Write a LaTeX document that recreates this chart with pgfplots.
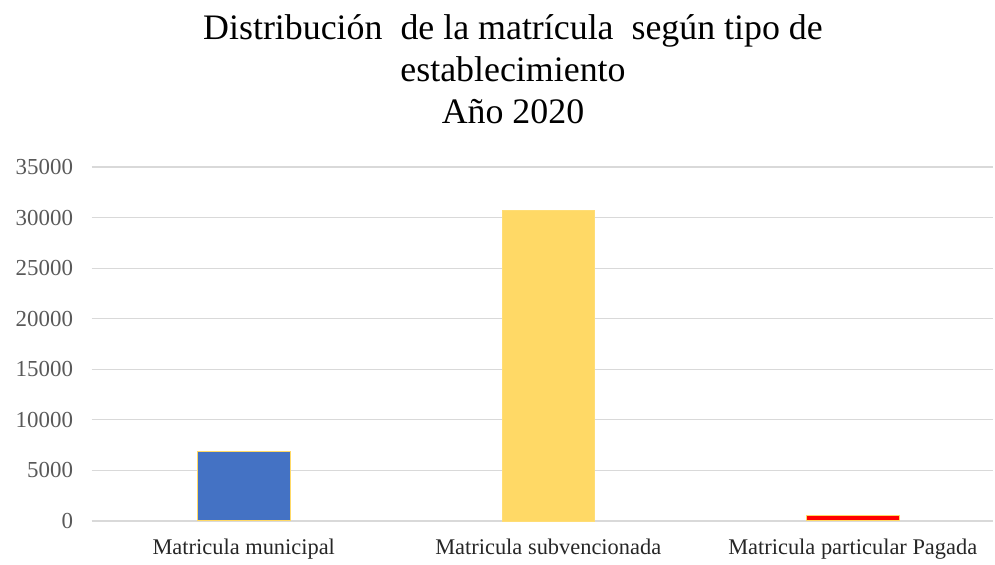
\documentclass[border=0pt]{standalone}
\usepackage{fontspec}
\setmainfont{Liberation Serif}
\usepackage{pgfplots}
\pgfplotsset{compat=1.18}
\definecolor{cblue}{HTML}{4472C4}
\definecolor{cyel}{HTML}{FFD966}
\definecolor{cred}{HTML}{FF0000}
\definecolor{cgrid}{HTML}{D9D9D9}
\definecolor{ctick}{HTML}{595959}
\begin{document}
\begin{tikzpicture}[x=1bp,y=1bp]
\path[use as bounding box] (0,0) rectangle (995,565);
\begin{axis}[
  at={(91.5bp,44bp)}, anchor=south west,
  scale only axis, width=901.3bp, height=354bp,
  xmin=-0.5, xmax=2.46, ymin=0, ymax=35000,
  ybar, bar width=0.305,
  axis line style={draw=none},
  major tick length=0pt,
  ymajorgrids, grid style={cgrid, line width=1.2pt},
  ytick={0,5000,...,35000},
  scaled y ticks=false,
  yticklabel style={/pgf/number format/fixed, /pgf/number format/1000 sep={}, font=\fontsize{23}{25}\selectfont, text=ctick, xshift=-15bp},
  /pgf/number format/assume math mode=true,
  xtick={0,1,2},
  xticklabels={Matricula municipal, Matricula subvencionada, Matricula particular Pagada},
  xticklabel style={font=\fontsize{22.5}{25}\selectfont, text=black!85, yshift=-14bp},
  clip=false,
]
\addplot[bar shift=0pt, fill=cblue, draw=cyel, line width=1pt] coordinates {(0,6900)};
\addplot[bar shift=0pt, fill=cyel, draw=cyel!90!white, line width=0.5pt] coordinates {(1,30700)};
\addplot[bar shift=0pt, fill=cred, draw=cyel, line width=1pt] coordinates {(2,500)};
\end{axis}
\begin{scope}[every node/.style={font=\fontsize{36}{41}\selectfont, anchor=base, inner sep=0pt}]
\node at (513,525) {Distribución\ \ de la matrícula\ \ según tipo de};
\node at (513,483) {establecimiento};
\node at (513,441) {Año 2020};
\end{scope}
\end{tikzpicture}
\end{document}
